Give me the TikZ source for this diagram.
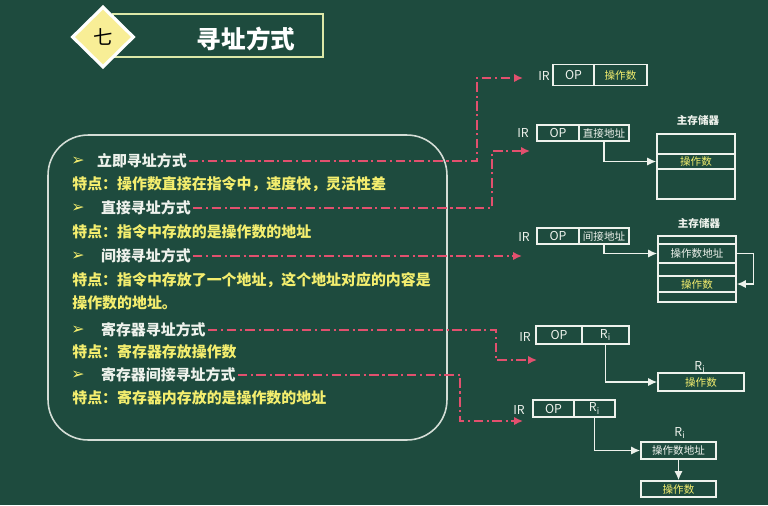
\documentclass[tikz,border=0pt]{standalone}
\usepackage{fontspec}
\setmainfont{Noto Sans CJK SC}
\newfontfamily\symfont{DejaVu Sans}
\usetikzlibrary{arrows.meta,shapes.geometric}
\definecolor{Board}{HTML}{1E4B3E}
\definecolor{Chalk}{HTML}{EEF2EC}
\definecolor{ChalkYellow}{HTML}{F4EE6E}
\definecolor{DashRed}{HTML}{E2506E}
\definecolor{TitleLine}{HTML}{DCE8A8}
\definecolor{TagYellow}{HTML}{F8EE96}
\definecolor{PanelLine}{HTML}{D4DDD6}

\begin{document}
\begin{tikzpicture}[x=0.02cm,y=-0.02cm,
  mode/.style={anchor=west,text=Chalk,font=\fontsize{8.5}{10}\selectfont\bfseries,inner sep=1pt},
  trait/.style={anchor=west,text=ChalkYellow,font=\fontsize{8.5}{10}\selectfont\bfseries,inner sep=0pt},
  bullet/.style={text=ChalkYellow,font=\symfont\fontsize{9}{10}\selectfont\bfseries,inner sep=0pt},
  field/.style={draw=Chalk,line width=0.9pt,inner sep=0pt,text=Chalk,font=\fontsize{6}{7}\selectfont},
  irlabel/.style={text=Chalk,font=\fontsize{7}{8}\selectfont,inner sep=1pt},
  caption/.style={text=Chalk,font=\fontsize{6}{7}\selectfont\bfseries,inner sep=1pt},
  redarr/.style={-{Latex[length=1.8mm,width=1.7mm]},draw=DashRed,line width=1.1pt,dash pattern=on 5.5pt off 2pt on 1.2pt off 2pt},
  warr/.style={-{Latex[length=1.8mm,width=1.6mm]},draw=Chalk,line width=0.8pt}
]
\fill[Board] (0,0) rectangle (768,505);
\useasboundingbox (0,0) rectangle (768,505);

% title
\node[draw=TitleLine,line width=1.2pt,minimum width=42mm,minimum height=8.6mm] (titlebar) at (218,35.5) {};
\node[text=white,font=\fontsize{14}{16}\selectfont\bfseries] (title) at (246,39) {寻址方式};
\node[diamond,fill=TagYellow,draw=white,line width=1.8pt,minimum width=12.4mm,minimum height=12.2mm,inner sep=0pt,font=\fontsize{11}{12}\selectfont] (badge) at (103,37) {七};

% list of modes
\node[draw=PanelLine,line width=0.9pt,rounded corners=8mm,minimum width=79.8mm,minimum height=61mm] (panel) at (247.5,287.5) {};
\node[bullet] (b1) at (78,161) {➢};
\node[mode] (imm) at (95,161) {立即寻址方式};
\node[trait] (imminfo) at (72,184) {特点：操作数直接在指令中，速度快，灵活性差};
\node[bullet] (b2) at (78,208) {➢};
\node[mode] (dir) at (99,208) {直接寻址方式};
\node[trait] (dirinfo) at (72,232) {特点：指令中存放的是操作数的地址};
\node[bullet] (b3) at (78,256) {➢};
\node[mode] (ind) at (99,256) {间接寻址方式};
\node[trait] (indinfo) at (72,280) {特点：指令中存放了一个地址，这个地址对应的内容是};
\node[trait] (indinfo2) at (72,303) {操作数的地址。};
\node[bullet] (b4) at (78,330) {➢};
\node[mode] (reg) at (99,330) {寄存器寻址方式};
\node[trait] (reginfo) at (72,352) {特点：寄存器存放操作数};
\node[bullet] (b5) at (78,375) {➢};
\node[mode] (rind) at (99,375) {寄存器间接寻址方式};
\node[trait] (rindinfo) at (72,398) {特点：寄存器内存放的是操作数的地址};

% immediate
\node[irlabel] (irA) at (544,76) {IR};
\node[field,minimum width=8.2mm,minimum height=4.2mm,font=\fontsize{7}{8}\selectfont] (opA) at (573.5,75) {OP};
\node[field,minimum width=10.6mm,minimum height=4.2mm,text=ChalkYellow] (valA) at (620.5,75) {操作数};

% direct
\node[irlabel] (irB) at (523,133) {IR};
\node[field,minimum width=8.4mm,minimum height=3.2mm,font=\fontsize{7}{8}\selectfont] (opB) at (558,133) {OP};
\node[field,minimum width=10mm,minimum height=3.2mm] (addrB) at (604,133) {直接地址};
\node[caption] (mainB) at (698,120) {主存储器};
\node[field,minimum width=15.6mm,minimum height=4mm] (memB1) at (696,144) {};
\node[field,minimum width=15.6mm,minimum height=3mm,text=ChalkYellow] (memB2) at (696,161.5) {操作数};
\node[field,minimum width=15.6mm,minimum height=6mm] (memB3) at (696,184) {};
\draw[warr] (addrB.south) |- (memB2.west);

% indirect
\node[irlabel] (irC) at (524,237) {IR};
\node[field,minimum width=8.4mm,minimum height=3.2mm,font=\fontsize{7}{8}\selectfont] (opC) at (558,236) {OP};
\node[field,minimum width=10mm,minimum height=3.2mm] (addrC) at (604,236) {间接地址};
\node[caption] (mainC) at (699,223) {主存储器};
\node[field,minimum width=15.6mm,minimum height=1.6mm] (memC1) at (697,240) {};
\node[field,minimum width=15.6mm,minimum height=3.8mm] (memC2) at (697,253.5) {操作数地址};
\node[field,minimum width=15.6mm,minimum height=2.6mm] (memC3) at (697,269.5) {};
\node[field,minimum width=15.6mm,minimum height=3.2mm,text=ChalkYellow] (memC4) at (697,284) {操作数};
\node[field,minimum width=15.6mm,minimum height=2mm] (memC5) at (697,297) {};
\draw[warr] (addrC.south) |- (memC2.west);
\draw[warr] (memC2.east) -- ++(17,0) |- (memC4.east);

% register
\node[irlabel] (irD) at (525,337) {IR};
\node[field,minimum width=9.2mm,minimum height=3.5mm,font=\fontsize{7}{8}\selectfont] (opD) at (559,335) {OP};
\node[field,minimum width=9.4mm,minimum height=3.5mm,font=\fontsize{7}{8}\selectfont] (riD) at (605.5,335) {R\textsubscript{i}};
\node[irlabel] (nameD) at (700,367) {R\textsubscript{i}};
\node[field,minimum width=17.2mm,minimum height=3.6mm,text=ChalkYellow] (regD) at (701,382) {操作数};
\draw[warr] (riD.south) |- (regD.west);

% register indirect
\node[irlabel] (irE) at (519,410) {IR};
\node[field,minimum width=8.2mm,minimum height=3.4mm,font=\fontsize{7}{8}\selectfont] (opE) at (553.5,408.5) {OP};
\node[field,minimum width=8.2mm,minimum height=3.4mm,font=\fontsize{7}{8}\selectfont] (riE) at (594.5,408.5) {R\textsubscript{i}};
\node[irlabel] (nameE) at (680,433) {R\textsubscript{i}};
\node[field,minimum width=15mm,minimum height=3.4mm] (regE1) at (678.5,450.5) {操作数地址};
\node[field,minimum width=15mm,minimum height=3.2mm,text=ChalkYellow] (regE2) at (678.5,489) {操作数};
\draw[warr] (riE.south) |- (regE1.west);
\draw[warr] (regE1.south) -- (regE2.north);

% dashed links
\coordinate (cA) at (477,78);
\coordinate (pA) at (523,78);
\coordinate (cB) at (492,151);
\coordinate (pB) at (530,151);
\coordinate (pC) at (522,256);
\coordinate (cD) at (496,360);
\coordinate (pD) at (537,360);
\coordinate (cE) at (460,421);
\coordinate (pE) at (523,421);
\draw[redarr] (imm.east) -| (cA) -- (pA);
\draw[redarr] (dir.east) -| (cB) -- (pB);
\draw[redarr] (ind.east) -- (pC);
\draw[redarr] (reg.east) -| (cD) -- (pD);
\draw[redarr] (rind.east) -| (cE) -- (pE);
\end{tikzpicture}
\end{document}
